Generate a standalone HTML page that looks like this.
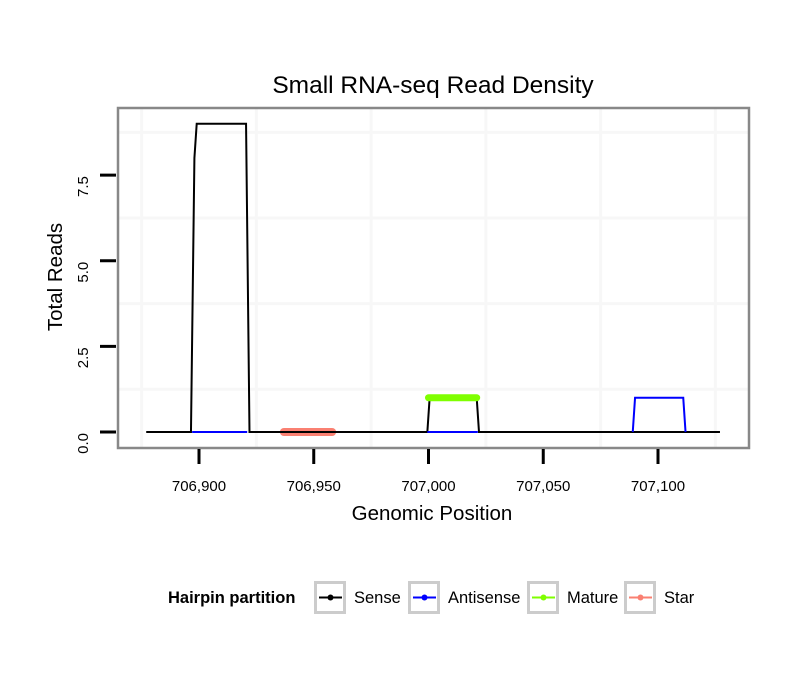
<!DOCTYPE html>
<html><head><meta charset="utf-8"><style>
body{margin:0;background:#fff;}
svg text{font-family:"Liberation Sans",sans-serif;}
</style></head><body>
<svg id="chart" width="810" height="690" xmlns="http://www.w3.org/2000/svg">
<rect width="810" height="690" fill="#fff"/>
<text x="433" y="93" font-size="24.5" text-anchor="middle">Small RNA-seq Read Density</text>
<g id="grid"></g>
<g id="series"></g>
<rect x="118" y="108" width="631" height="340" fill="none" stroke="#888" stroke-width="2.5"/>
<g id="axes"></g>
<text x="432" y="520" font-size="20.5" text-anchor="middle">Genomic Position</text>
<text transform="translate(62,277) rotate(-90)" font-size="20.5" text-anchor="middle">Total Reads</text>
<g>
<text x="168" y="603" font-size="16.5" font-weight="bold">Hairpin partition</text>
<g id="legend"></g>
</g>
</svg>
<script>
const xTicks=[706900,706950,707000,707050,707100];
const xTickLabels=["706,900","706,950","707,000","707,050","707,100"];
const yTicks=[0,2.5,5,7.5];
const yTickLabels=["0.0","2.5","5.0","7.5"];
const xGrid=[706875,706925,706975,707025,707075,707125];
const yGrid=[1.25,3.75,6.25,8.75];
const senseX=[706877,706896.5,706898,706899,706920.5,706922,706999.5,707000.5,707021,707022,707127];
const senseY=[0,0,8,9,9,0,0,1,1,0,0];
const antisenseX=[706897,706921,706999.5,707021.5,707089,707090,707111,707112];
const antisenseY=[0,0,0,0,0,1,1,0];
const antisenseSegs=[[0,1],[2,3],[4,7]];
const matureX=[707000,707021];
const matureY=[1,1];
const starX=[706937,706958];
const starY=[0,0];
const legendNames=["Sense","Antisense","Mature","Star"];
const legendColors=["#000","#0000ff","#7fff00","#fa8072"];

const NS="http://www.w3.org/2000/svg";
const xs=v=>199+(v-706900)*2.295;
const ys=v=>432-v*34.25;
function mk(tag,attrs,parent){const e=document.createElementNS(NS,tag);for(const k in attrs)e.setAttribute(k,attrs[k]);parent.appendChild(e);return e;}
const grid=document.getElementById('grid'),series=document.getElementById('series'),axes=document.getElementById('axes'),legend=document.getElementById('legend');
mk('rect',{x:118,y:108,width:631,height:340,fill:'#fff'},grid);
xGrid.forEach(v=>{const l=mk('line',{x1:xs(v),x2:xs(v),y1:108,y2:448,stroke:'#f7f7f7','stroke-width':3},grid);

});
yGrid.forEach(v=>{const l=mk('line',{x1:118,x2:749,y1:ys(v),y2:ys(v),stroke:'#f7f7f7','stroke-width':3},grid);

});
function pts(X,Y,a,b){let s=[];for(let i=a;i<=b;i++)s.push(xs(X[i])+','+ys(Y[i]));return s.join(' ');}
let st=mk('polyline',{points:pts(starX,starY,0,1),fill:'none',stroke:'#fa8072','stroke-width':8,'stroke-linecap':'round'},series);


let se=mk('polyline',{points:pts(senseX,senseY,0,senseX.length-1),fill:'none',stroke:'#000','stroke-width':2},series);


antisenseSegs.forEach(s=>{const p=mk('polyline',{points:pts(antisenseX,antisenseY,s[0],s[1]),fill:'none',stroke:'#0000ff','stroke-width':2},series);

});
let ma=mk('polyline',{points:pts(matureX,matureY,0,1),fill:'none',stroke:'#7fff00','stroke-width':7,'stroke-linecap':'round'},series);


xTicks.forEach((v,i)=>{const t=mk('line',{x1:xs(v),x2:xs(v),y1:449,y2:464,stroke:'#000','stroke-width':3},axes);


const tx=mk('text',{x:xs(v),y:491,'font-size':15,'text-anchor':'middle'},axes);tx.textContent=xTickLabels[i];

});
yTicks.forEach((v,i)=>{const t=mk('line',{x1:100,x2:116,y1:ys(v),y2:ys(v),stroke:'#000','stroke-width':3},axes);


const tx=mk('text',{transform:`translate(88,${ys(v)+1}) rotate(-90)`,'font-size':15,'text-anchor':'end'},axes);tx.textContent=yTickLabels[i];

});
const lx=[314,408,527,624];
legendNames.forEach((n,i)=>{const g=mk('g',{},legend);


mk('rect',{x:lx[i]+1.5,y:582.5,width:29,height:30,fill:'#fff',stroke:'#ccc','stroke-width':3},g);
mk('line',{x1:lx[i]+5,x2:lx[i]+28,y1:597.5,y2:597.5,stroke:legendColors[i],'stroke-width':2},g);
mk('circle',{cx:lx[i]+16.5,cy:597.5,r:3,fill:legendColors[i]},g);
const t=mk('text',{x:lx[i]+40,y:603,'font-size':16.5},g);t.textContent=n;});
</script>
</body></html>
